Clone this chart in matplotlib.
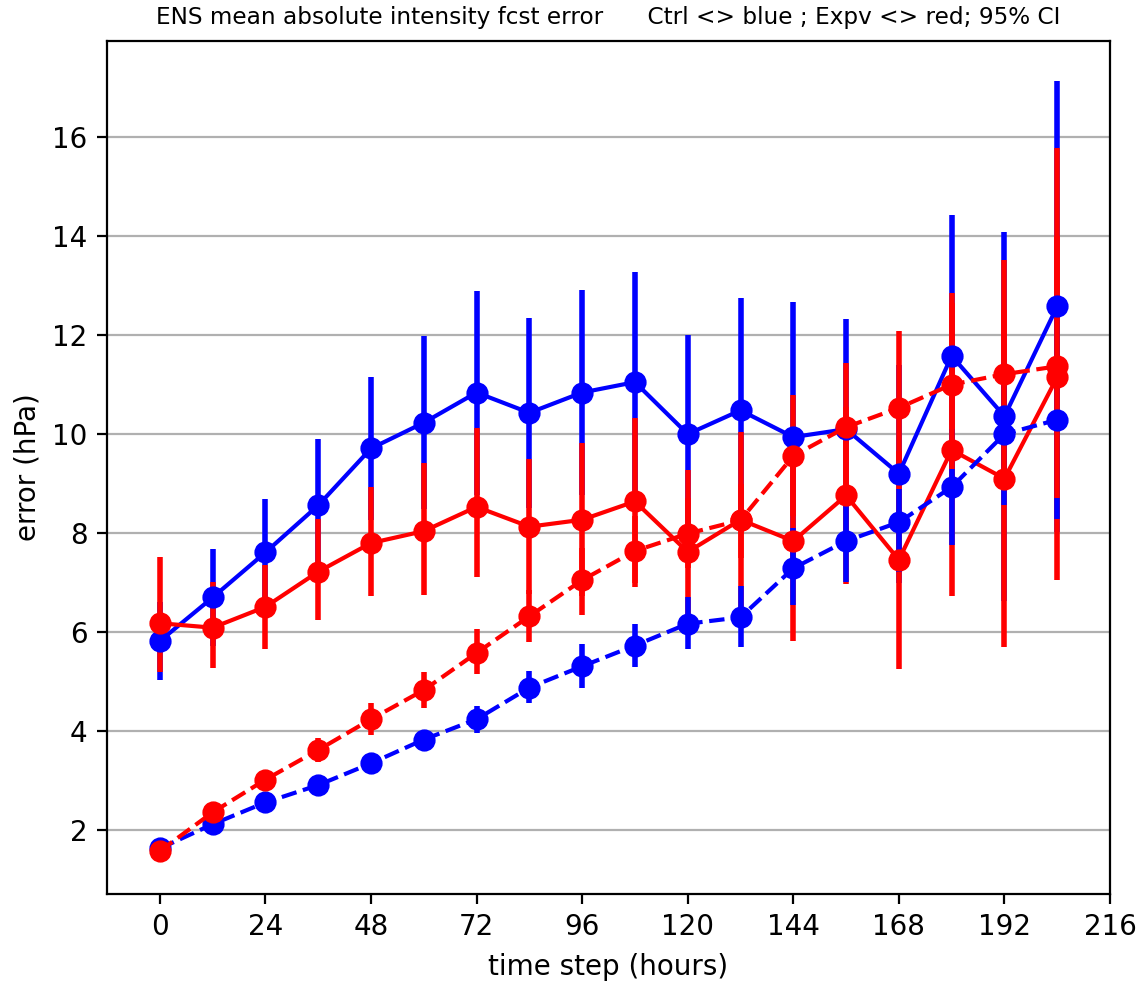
import matplotlib
matplotlib.use('Agg')
import matplotlib.pyplot as plt

hours = [0, 12, 24, 36, 48, 60, 72, 84, 96, 108, 120, 132, 144, 156, 168, 180, 192, 204]

# solid lines
ctrl_solid = [5.82, 6.70, 7.61, 8.56, 9.71, 10.23, 10.84, 10.43, 10.84, 11.05, 10.00, 10.48, 9.94, 10.10, 9.20, 11.58, 10.36, 12.58]
ctrl_solid_lo = [5.03, 5.73, 6.53, 7.20, 8.26, 8.48, 8.78, 8.51, 8.76, 8.83, 7.99, 8.21, 7.21, 7.89, 7.00, 8.73, 6.63, 8.02]
ctrl_solid_hi = [6.61, 7.67, 8.69, 9.90, 11.16, 11.98, 12.90, 12.35, 12.92, 13.27, 12.01, 12.75, 12.67, 12.33, 11.40, 14.43, 14.09, 17.14]

expv_solid = [6.18, 6.09, 6.51, 7.22, 7.80, 8.04, 8.53, 8.13, 8.27, 8.64, 7.62, 8.27, 7.84, 8.76, 7.46, 9.68, 9.10, 11.15]
expv_solid_lo = [5.20, 5.27, 5.65, 6.25, 6.74, 6.76, 7.11, 6.77, 6.72, 7.00, 5.96, 6.50, 5.82, 6.98, 5.26, 6.72, 5.70, 7.06]
expv_solid_hi = [7.51, 7.01, 7.35, 8.29, 8.93, 9.42, 10.13, 9.49, 9.82, 10.32, 9.28, 10.05, 9.86, 10.54, 9.66, 12.64, 12.50, 15.78]

# dashed lines
ctrl_dash = [1.63, 2.12, 2.56, 2.91, 3.35, 3.83, 4.24, 4.88, 5.31, 5.73, 6.17, 6.30, 7.29, 7.84, 8.22, 8.93, 10.00, 10.29]
ctrl_dash_lo = [1.50, 2.02, 2.44, 2.78, 3.20, 3.65, 3.97, 4.57, 4.88, 5.29, 5.66, 5.70, 6.54, 7.01, 7.21, 7.75, 8.56, 8.28]
ctrl_dash_hi = [1.76, 2.22, 2.68, 3.04, 3.50, 4.01, 4.50, 5.21, 5.77, 6.17, 6.71, 6.94, 8.10, 8.65, 8.90, 10.10, 11.44, 12.30]

expv_dash = [1.58, 2.36, 3.02, 3.62, 4.24, 4.83, 5.58, 6.32, 7.05, 7.64, 7.99, 8.26, 9.56, 10.14, 10.53, 11.00, 11.21, 11.37]
expv_dash_lo = [1.47, 2.25, 2.87, 3.38, 3.92, 4.46, 5.15, 5.80, 6.35, 6.92, 7.30, 7.50, 8.35, 8.85, 8.97, 9.30, 8.93, 8.71]
expv_dash_hi = [1.69, 2.47, 3.17, 3.87, 4.56, 5.20, 6.07, 6.85, 7.70, 8.35, 8.70, 9.00, 10.78, 11.43, 12.09, 12.86, 13.51, 14.00]


def ci(mean, lo, hi):
    return [[m - l for m, l in zip(mean, lo)], [h - m for m, h in zip(mean, hi)]]


fig = plt.figure(figsize=(5.7, 4.94), dpi=200)
ax = fig.add_axes([0.0939, 0.0951, 0.8798, 0.8634])

ax.errorbar(hours, ctrl_solid, yerr=ci(ctrl_solid, ctrl_solid_lo, ctrl_solid_hi),
            color='blue', ls='-', marker='o', ms=7, lw=1.5, elinewidth=2)
ax.errorbar(hours, expv_solid, yerr=ci(expv_solid, expv_solid_lo, expv_solid_hi),
            color='red', ls='-', marker='o', ms=7, lw=1.5, elinewidth=2)
ax.errorbar(hours, ctrl_dash, yerr=ci(ctrl_dash, ctrl_dash_lo, ctrl_dash_hi),
            color='blue', ls='--', marker='o', ms=7, lw=1.5, elinewidth=2)
ax.errorbar(hours, expv_dash, yerr=ci(expv_dash, expv_dash_lo, expv_dash_hi),
            color='red', ls='--', marker='o', ms=7, lw=1.5, elinewidth=2)

ax.set_xlim(-12, 216)
ax.set_ylim(0.71, 17.94)
ax.set_xticks(range(0, 217, 24))
ax.set_yticks([2, 4, 6, 8, 10, 12, 14, 16])
ax.yaxis.grid(True, color='#b0b0b0', lw=0.8)
ax.set_axisbelow(True)

ax.set_xlabel('time step (hours)')
ax.set_ylabel('error (hPa)')
ax.set_title('ENS mean absolute intensity fcst error      Ctrl <> blue ; Expv <> red; 95% CI',
             fontsize=8.33)

fig.savefig('out.png', dpi=200)
